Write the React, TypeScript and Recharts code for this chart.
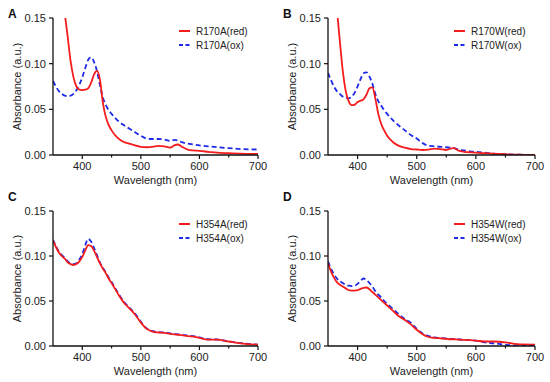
import { LineChart, Line, XAxis, YAxis, Legend } from 'recharts'

const wavelengths = [
  350, 355, 360, 365, 370, 375, 380, 385, 390, 395, 400, 405, 410, 415, 420, 425, 430, 435, 440, 445,
  450, 460, 470, 480, 490, 500, 510, 520, 530, 540, 550, 557, 563, 570, 580, 590, 600, 615, 630, 650, 670, 700,
]

const r170aRed = [
  0.30, 0.25, 0.21, 0.18, 0.155, 0.13, 0.103, 0.085, 0.075, 0.0715, 0.071, 0.0715, 0.073, 0.079, 0.088, 0.092, 0.083, 0.058, 0.042, 0.033,
  0.027, 0.019, 0.0145, 0.0125, 0.0105, 0.009, 0.0085, 0.009, 0.01, 0.0095, 0.008, 0.0105, 0.0115, 0.009, 0.006, 0.005, 0.0045, 0.0035, 0.0025, 0.002, 0.0015, 0.0012,
]
const r170aOx = [
  0.081, 0.075, 0.07, 0.067, 0.065, 0.0645, 0.065, 0.067, 0.071, 0.077, 0.085, 0.095, 0.104, 0.107, 0.102, 0.092, 0.077, 0.063, 0.055, 0.049,
  0.045, 0.038, 0.033, 0.029, 0.025, 0.021, 0.018, 0.0175, 0.0175, 0.017, 0.0155, 0.0165, 0.016, 0.014, 0.0125, 0.0115, 0.0105, 0.0095, 0.0085, 0.0075, 0.0065, 0.006,
]
const r170wRed = [
  0.32, 0.26, 0.2, 0.16, 0.125, 0.092, 0.07, 0.059, 0.0545, 0.055, 0.058, 0.0595, 0.061, 0.066, 0.073, 0.074, 0.062, 0.045, 0.034, 0.027,
  0.021, 0.014, 0.01, 0.008, 0.0065, 0.006, 0.0055, 0.006, 0.007, 0.0065, 0.0055, 0.007, 0.0075, 0.005, 0.0035, 0.003, 0.0025, 0.002, 0.0015, 0.0008, 0.0003, 0.0002,
]
const r170wOx = [
  0.09, 0.082, 0.075, 0.07, 0.067, 0.064, 0.0625, 0.062, 0.064, 0.068, 0.075, 0.083, 0.0895, 0.0905, 0.086, 0.078, 0.067, 0.059, 0.054, 0.049,
  0.045, 0.038, 0.032, 0.027, 0.022, 0.018, 0.013, 0.01, 0.0095, 0.009, 0.0085, 0.008, 0.0075, 0.006, 0.005, 0.004, 0.0035, 0.0025, 0.0015, 0.0008, 0.0003, 0.0002,
]
const h354aRed = [
  0.117, 0.11, 0.104, 0.1, 0.097, 0.093, 0.091, 0.09, 0.091, 0.094, 0.099, 0.106, 0.112, 0.111, 0.106, 0.099, 0.092, 0.086, 0.081, 0.075,
  0.07, 0.059, 0.049, 0.042, 0.035, 0.026, 0.019, 0.016, 0.015, 0.0145, 0.0135, 0.013, 0.0125, 0.012, 0.011, 0.0105, 0.009, 0.007, 0.007, 0.005, 0.003, 0.0015,
]
const h354aOx = [
  0.118, 0.111, 0.105, 0.101, 0.098, 0.094, 0.092, 0.091, 0.092, 0.096, 0.102, 0.112, 0.119, 0.116, 0.109, 0.101, 0.093, 0.087, 0.082, 0.076,
  0.071, 0.06, 0.05, 0.043, 0.036, 0.027, 0.0195, 0.0165, 0.0155, 0.015, 0.014, 0.0135, 0.013, 0.0125, 0.0115, 0.011, 0.0095, 0.0075, 0.0072, 0.0052, 0.0032, 0.0016,
]
const h354wRed = [
  0.092, 0.083, 0.076, 0.071, 0.068, 0.066, 0.064, 0.062, 0.0615, 0.0615, 0.062, 0.0635, 0.0645, 0.065, 0.063, 0.06, 0.057, 0.054, 0.051, 0.048,
  0.045, 0.039, 0.033, 0.029, 0.024, 0.018, 0.013, 0.01, 0.009, 0.0085, 0.008, 0.0075, 0.0075, 0.007, 0.0068, 0.0065, 0.006, 0.005, 0.005, 0.004, 0.002, 0.0015,
]
const h354wOx = [
  0.094, 0.086, 0.08, 0.075, 0.072, 0.07, 0.068, 0.067, 0.0665, 0.067, 0.069, 0.0725, 0.075, 0.0735, 0.07, 0.066, 0.061, 0.057, 0.054, 0.05,
  0.047, 0.041, 0.035, 0.03, 0.026, 0.019, 0.014, 0.011, 0.0095, 0.009, 0.0085, 0.008, 0.008, 0.0075, 0.007, 0.0065, 0.006, 0.004, 0.003, 0.0015, 0.0003, 0.0002,
]

const xTicks = [400, 450, 500, 550, 600, 650, 700]
const yTicks = [0, 0.05, 0.1, 0.15]

const RED = '#f41c1c'
const BLUE = '#1d2ae6'
const FONT = '"Liberation Sans", Arial, sans-serif'
const INK = '#222'

function XTick(props: any) {
  const { x, y, payload } = props
  const major = payload.value % 100 === 0
  return (
    <g>
      <line x1={x} x2={x} y1={y} y2={y + (major ? 4 : 2.5)} stroke="#111" strokeWidth={1.2} />
      {major && (
        <text x={x} y={y + 15} textAnchor="middle" fontSize={11} fill={INK} fontFamily={FONT}>
          {payload.value}
        </text>
      )}
    </g>
  )
}

function LegendBox({ names }: { names: string[] }) {
  return (
    <svg width={90} height={30} style={{ display: 'block' }}>
      <line x1={1} x2={12} y1={7} y2={7} stroke={RED} strokeWidth={2} />
      <text x={18} y={10.5} fontSize={10} fill={INK} fontFamily={FONT}>{names[0]}</text>
      <line x1={1} x2={13} y1={21} y2={21} stroke={BLUE} strokeWidth={2} strokeDasharray="4 2.5" />
      <text x={18} y={24.5} fontSize={10} fill={INK} fontFamily={FONT}>{names[1]}</text>
    </svg>
  )
}

interface PanelProps {
  letter: string
  red: number[]
  ox: number[]
  names: string[]
  left: number
  top: number
  marginTop: number
  marginRight: number
}

function Panel({ letter, red, ox, names, left, top, marginTop, marginRight }: PanelProps) {
  const data = wavelengths.map((w, i) => ({ w, red: red[i], ox: ox[i] }))
  return (
    <div style={{ position: 'absolute', left, top, width: 275, height: 191 }}>
      <LineChart width={275} height={191} data={data} margin={{ top: marginTop, right: marginRight, bottom: 0, left: 0 }}>
        <XAxis
          dataKey="w"
          type="number"
          domain={[350, 700]}
          ticks={xTicks}
          allowDataOverflow
          height={36}
          tickSize={0}
          tickMargin={0}
          tickLine={false}
          tick={<XTick />}
          axisLine={{ stroke: '#111', strokeWidth: 1.3 }}
          label={{
            content: (p: any) => (
              <text x={p.viewBox.x + p.viewBox.width / 2} y={p.viewBox.y + 29} textAnchor="middle" fontSize={11} fill={INK} fontFamily={FONT}>
                Wavelength (nm)
              </text>
            ),
          }}
        />
        <YAxis
          type="number"
          domain={[0, 0.15]}
          ticks={yTicks}
          allowDataOverflow
          width={53}
          tickSize={4}
          tickMargin={3}
          tickFormatter={(v: number) => v.toFixed(2)}
          tick={{ fill: INK, fontSize: 11, fontFamily: FONT }}
          tickLine={{ stroke: '#111', strokeWidth: 1.2 }}
          axisLine={{ stroke: '#111', strokeWidth: 1.3 }}
          label={{
            content: (p: any) => {
              const cy = p.viewBox.y + p.viewBox.height / 2
              return (
                <text x={17} y={cy} transform={`rotate(-90, 17, ${cy})`} textAnchor="middle" dominantBaseline="central" fontSize={11} fill={INK} fontFamily={FONT}>
                  Absorbance (a.u.)
                </text>
              )
            },
          }}
        />
        <Legend
          layout="vertical"
          align="center"
          verticalAlign="middle"
          content={() => <LegendBox names={names} />}
          wrapperStyle={{ position: 'absolute', left: 178, top: marginTop + 6, width: 90, height: 30 }}
        />
        <Line type="monotone" dataKey="ox" stroke={BLUE} strokeWidth={1.8} strokeDasharray="5 3" dot={false} isAnimationActive={false} />
        <Line type="monotone" dataKey="red" stroke={RED} strokeWidth={1.8} dot={false} isAnimationActive={false} />
      </LineChart>
      <div style={{ position: 'absolute', left: 8, top: letter === 'A' || letter === 'B' ? 7 : -1, fontFamily: FONT, fontWeight: 'bold', fontSize: 12, color: '#111' }}>
        {letter}
      </div>
    </div>
  )
}

export default function App() {
  return (
    <div style={{ position: 'fixed', left: 0, top: 0, width: 550, height: 382, background: '#fff' }}>
      <Panel letter="A" red={r170aRed} ox={r170aOx} names={['R170A(red)', 'R170A(ox)']} left={0} top={0} marginTop={18} marginRight={17} />
      <Panel letter="B" red={r170wRed} ox={r170wOx} names={['R170W(red)', 'R170W(ox)']} left={275} top={0} marginTop={18} marginRight={15} />
      <Panel letter="C" red={h354aRed} ox={h354aOx} names={['H354A(red)', 'H354A(ox)']} left={0} top={191} marginTop={20} marginRight={17} />
      <Panel letter="D" red={h354wRed} ox={h354wOx} names={['H354W(red)', 'H354W(ox)']} left={275} top={191} marginTop={20} marginRight={15} />
    </div>
  )
}
